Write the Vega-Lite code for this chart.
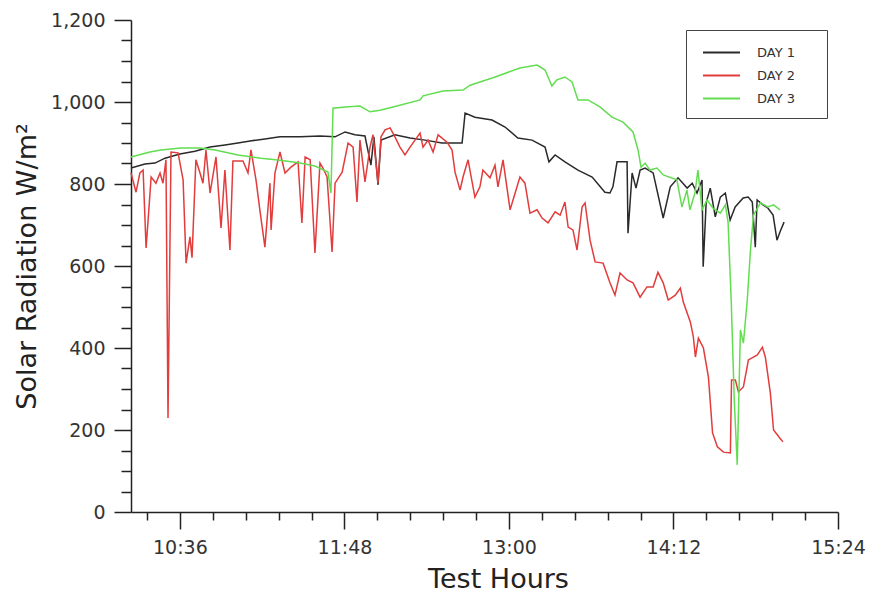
{
  "$schema": "https://vega.github.io/schema/vega-lite/v6.json",
  "width": 707,
  "height": 492,
  "autosize": "none",
  "padding": {"left": 131, "top": 20, "right": 33, "bottom": 83},
  "background": "white",
  "config": {"view": {"stroke": null}, "font": "DejaVu Sans"},
  "data": {"values": [
    {"day":"DAY 1","t":614.6,"v":839},{"day":"DAY 1","t":620.7,"v":849},{"day":"DAY 1","t":625.1,"v":851},{"day":"DAY 1","t":629.5,"v":863},{"day":"DAY 1","t":636.0,"v":873},{"day":"DAY 1","t":642.6,"v":880},{"day":"DAY 1","t":649.2,"v":890},{"day":"DAY 1","t":655.7,"v":895},{"day":"DAY 1","t":661.4,"v":900},{"day":"DAY 1","t":666.7,"v":905},{"day":"DAY 1","t":673.2,"v":910},{"day":"DAY 1","t":679.8,"v":915},{"day":"DAY 1","t":688.6,"v":915},{"day":"DAY 1","t":697.3,"v":917},{"day":"DAY 1","t":703.9,"v":915},{"day":"DAY 1","t":708.3,"v":927},{"day":"DAY 1","t":712.6,"v":920},{"day":"DAY 1","t":717.0,"v":917},{"day":"DAY 1","t":719.6,"v":846},{"day":"DAY 1","t":720.9,"v":915},{"day":"DAY 1","t":722.7,"v":798},{"day":"DAY 1","t":724.0,"v":907},{"day":"DAY 1","t":730.1,"v":920},{"day":"DAY 1","t":736.7,"v":912},{"day":"DAY 1","t":743.3,"v":907},{"day":"DAY 1","t":750.7,"v":900},{"day":"DAY 1","t":759.5,"v":900},{"day":"DAY 1","t":760.8,"v":973},{"day":"DAY 1","t":765.1,"v":963},{"day":"DAY 1","t":772.6,"v":956},{"day":"DAY 1","t":778.3,"v":939},{"day":"DAY 1","t":783.9,"v":912},{"day":"DAY 1","t":790.1,"v":907},{"day":"DAY 1","t":795.8,"v":890},{"day":"DAY 1","t":797.5,"v":854},{"day":"DAY 1","t":800.2,"v":871},{"day":"DAY 1","t":804.5,"v":854},{"day":"DAY 1","t":810.2,"v":834},{"day":"DAY 1","t":816.4,"v":817},{"day":"DAY 1","t":822.0,"v":780},{"day":"DAY 1","t":824.2,"v":778},{"day":"DAY 1","t":825.5,"v":793},{"day":"DAY 1","t":827.3,"v":854},{"day":"DAY 1","t":831.7,"v":854},{"day":"DAY 1","t":832.1,"v":680},{"day":"DAY 1","t":833.9,"v":827},{"day":"DAY 1","t":835.6,"v":790},{"day":"DAY 1","t":837.4,"v":834},{"day":"DAY 1","t":839.6,"v":839},{"day":"DAY 1","t":843.1,"v":827},{"day":"DAY 1","t":847.5,"v":717},{"day":"DAY 1","t":850.6,"v":793},{"day":"DAY 1","t":854.0,"v":815},{"day":"DAY 1","t":858.0,"v":790},{"day":"DAY 1","t":860.2,"v":802},{"day":"DAY 1","t":862.3,"v":778},{"day":"DAY 1","t":864.5,"v":810},{"day":"DAY 1","t":865.0,"v":598},{"day":"DAY 1","t":866.3,"v":754},{"day":"DAY 1","t":868.1,"v":790},{"day":"DAY 1","t":870.3,"v":720},{"day":"DAY 1","t":872.5,"v":768},{"day":"DAY 1","t":874.7,"v":778},{"day":"DAY 1","t":876.8,"v":712},{"day":"DAY 1","t":879.0,"v":744},{"day":"DAY 1","t":882.5,"v":766},{"day":"DAY 1","t":884.7,"v":768},{"day":"DAY 1","t":886.5,"v":756},{"day":"DAY 1","t":887.8,"v":646},{"day":"DAY 1","t":888.6,"v":761},{"day":"DAY 1","t":891.2,"v":749},{"day":"DAY 1","t":893.4,"v":741},{"day":"DAY 1","t":895.6,"v":724},{"day":"DAY 1","t":897.3,"v":663},{"day":"DAY 1","t":898.6,"v":683},{"day":"DAY 1","t":900.4,"v":707},
    {"day":"DAY 2","t":614.6,"v":827},{"day":"DAY 2","t":616.8,"v":780},{"day":"DAY 2","t":618.5,"v":827},{"day":"DAY 2","t":619.9,"v":834},{"day":"DAY 2","t":621.2,"v":644},{"day":"DAY 2","t":622.5,"v":744},{"day":"DAY 2","t":623.4,"v":817},{"day":"DAY 2","t":625.5,"v":802},{"day":"DAY 2","t":627.3,"v":827},{"day":"DAY 2","t":628.6,"v":802},{"day":"DAY 2","t":629.9,"v":859},{"day":"DAY 2","t":630.8,"v":229},{"day":"DAY 2","t":632.1,"v":878},{"day":"DAY 2","t":635.2,"v":876},{"day":"DAY 2","t":637.4,"v":810},{"day":"DAY 2","t":638.7,"v":607},{"day":"DAY 2","t":640.4,"v":671},{"day":"DAY 2","t":641.3,"v":620},{"day":"DAY 2","t":643.0,"v":859},{"day":"DAY 2","t":644.8,"v":827},{"day":"DAY 2","t":646.1,"v":802},{"day":"DAY 2","t":647.4,"v":883},{"day":"DAY 2","t":649.2,"v":778},{"day":"DAY 2","t":651.8,"v":866},{"day":"DAY 2","t":654.0,"v":693},{"day":"DAY 2","t":655.7,"v":834},{"day":"DAY 2","t":657.9,"v":639},{"day":"DAY 2","t":659.2,"v":856},{"day":"DAY 2","t":663.6,"v":856},{"day":"DAY 2","t":665.8,"v":827},{"day":"DAY 2","t":667.1,"v":883},{"day":"DAY 2","t":669.3,"v":810},{"day":"DAY 2","t":671.1,"v":732},{"day":"DAY 2","t":673.2,"v":646},{"day":"DAY 2","t":675.4,"v":802},{"day":"DAY 2","t":675.9,"v":688},{"day":"DAY 2","t":677.6,"v":827},{"day":"DAY 2","t":679.8,"v":878},{"day":"DAY 2","t":682.0,"v":827},{"day":"DAY 2","t":684.6,"v":841},{"day":"DAY 2","t":687.7,"v":854},{"day":"DAY 2","t":689.4,"v":705},{"day":"DAY 2","t":690.8,"v":866},{"day":"DAY 2","t":693.0,"v":859},{"day":"DAY 2","t":695.1,"v":632},{"day":"DAY 2","t":697.3,"v":851},{"day":"DAY 2","t":698.6,"v":839},{"day":"DAY 2","t":700.4,"v":817},{"day":"DAY 2","t":702.6,"v":634},{"day":"DAY 2","t":703.9,"v":802},{"day":"DAY 2","t":707.0,"v":829},{"day":"DAY 2","t":709.6,"v":900},{"day":"DAY 2","t":711.8,"v":890},{"day":"DAY 2","t":713.5,"v":756},{"day":"DAY 2","t":714.8,"v":907},{"day":"DAY 2","t":717.0,"v":805},{"day":"DAY 2","t":719.2,"v":890},{"day":"DAY 2","t":720.5,"v":920},{"day":"DAY 2","t":722.7,"v":802},{"day":"DAY 2","t":724.0,"v":915},{"day":"DAY 2","t":725.8,"v":932},{"day":"DAY 2","t":728.0,"v":937},{"day":"DAY 2","t":730.1,"v":915},{"day":"DAY 2","t":732.3,"v":890},{"day":"DAY 2","t":734.5,"v":871},{"day":"DAY 2","t":736.7,"v":890},{"day":"DAY 2","t":738.9,"v":907},{"day":"DAY 2","t":741.1,"v":924},{"day":"DAY 2","t":742.4,"v":890},{"day":"DAY 2","t":744.6,"v":907},{"day":"DAY 2","t":746.8,"v":878},{"day":"DAY 2","t":749.0,"v":920},{"day":"DAY 2","t":752.9,"v":902},{"day":"DAY 2","t":755.1,"v":883},{"day":"DAY 2","t":756.4,"v":829},{"day":"DAY 2","t":758.6,"v":785},{"day":"DAY 2","t":759.9,"v":817},{"day":"DAY 2","t":762.1,"v":859},{"day":"DAY 2","t":765.1,"v":768},{"day":"DAY 2","t":767.3,"v":793},{"day":"DAY 2","t":768.6,"v":834},{"day":"DAY 2","t":771.7,"v":815},{"day":"DAY 2","t":773.9,"v":846},{"day":"DAY 2","t":775.2,"v":793},{"day":"DAY 2","t":777.4,"v":859},{"day":"DAY 2","t":780.5,"v":737},{"day":"DAY 2","t":784.8,"v":817},{"day":"DAY 2","t":787.0,"v":802},{"day":"DAY 2","t":789.2,"v":729},{"day":"DAY 2","t":792.3,"v":737},{"day":"DAY 2","t":794.5,"v":717},{"day":"DAY 2","t":797.1,"v":705},{"day":"DAY 2","t":800.2,"v":732},{"day":"DAY 2","t":802.4,"v":724},{"day":"DAY 2","t":804.5,"v":756},{"day":"DAY 2","t":805.9,"v":695},{"day":"DAY 2","t":808.0,"v":688},{"day":"DAY 2","t":809.8,"v":639},{"day":"DAY 2","t":812.0,"v":744},{"day":"DAY 2","t":813.3,"v":754},{"day":"DAY 2","t":815.5,"v":663},{"day":"DAY 2","t":817.7,"v":610},{"day":"DAY 2","t":821.2,"v":607},{"day":"DAY 2","t":824.2,"v":559},{"day":"DAY 2","t":826.4,"v":529},{"day":"DAY 2","t":828.6,"v":583},{"day":"DAY 2","t":831.7,"v":566},{"day":"DAY 2","t":834.3,"v":559},{"day":"DAY 2","t":837.4,"v":524},{"day":"DAY 2","t":840.4,"v":549},{"day":"DAY 2","t":843.1,"v":549},{"day":"DAY 2","t":845.2,"v":585},{"day":"DAY 2","t":847.5,"v":559},{"day":"DAY 2","t":849.7,"v":517},{"day":"DAY 2","t":852.8,"v":529},{"day":"DAY 2","t":855.0,"v":546},{"day":"DAY 2","t":856.3,"v":512},{"day":"DAY 2","t":859.4,"v":463},{"day":"DAY 2","t":860.7,"v":427},{"day":"DAY 2","t":861.6,"v":378},{"day":"DAY 2","t":862.9,"v":424},{"day":"DAY 2","t":865.1,"v":400},{"day":"DAY 2","t":867.3,"v":329},{"day":"DAY 2","t":869.1,"v":193},{"day":"DAY 2","t":871.2,"v":159},{"day":"DAY 2","t":873.9,"v":146},{"day":"DAY 2","t":876.9,"v":144},{"day":"DAY 2","t":877.4,"v":322},{"day":"DAY 2","t":879.1,"v":322},{"day":"DAY 2","t":880.4,"v":293},{"day":"DAY 2","t":882.6,"v":305},{"day":"DAY 2","t":884.8,"v":371},{"day":"DAY 2","t":888.7,"v":383},{"day":"DAY 2","t":890.9,"v":402},{"day":"DAY 2","t":892.2,"v":378},{"day":"DAY 2","t":894.4,"v":290},{"day":"DAY 2","t":895.8,"v":200},{"day":"DAY 2","t":898.6,"v":180},{"day":"DAY 2","t":899.9,"v":171},
    {"day":"DAY 3","t":614.6,"v":866},{"day":"DAY 3","t":622.9,"v":878},{"day":"DAY 3","t":627.7,"v":883},{"day":"DAY 3","t":636.5,"v":888},{"day":"DAY 3","t":644.8,"v":888},{"day":"DAY 3","t":651.4,"v":883},{"day":"DAY 3","t":661.4,"v":871},{"day":"DAY 3","t":671.5,"v":863},{"day":"DAY 3","t":679.8,"v":858},{"day":"DAY 3","t":688.6,"v":851},{"day":"DAY 3","t":695.1,"v":844},{"day":"DAY 3","t":700.8,"v":829},{"day":"DAY 3","t":702.1,"v":778},{"day":"DAY 3","t":703.0,"v":985},{"day":"DAY 3","t":708.3,"v":988},{"day":"DAY 3","t":714.8,"v":990},{"day":"DAY 3","t":719.2,"v":976},{"day":"DAY 3","t":723.6,"v":980},{"day":"DAY 3","t":729.3,"v":988},{"day":"DAY 3","t":741.1,"v":1005},{"day":"DAY 3","t":742.4,"v":1015},{"day":"DAY 3","t":751.1,"v":1027},{"day":"DAY 3","t":759.9,"v":1029},{"day":"DAY 3","t":763.0,"v":1041},{"day":"DAY 3","t":773.0,"v":1059},{"day":"DAY 3","t":784.8,"v":1083},{"day":"DAY 3","t":792.3,"v":1090},{"day":"DAY 3","t":795.8,"v":1078},{"day":"DAY 3","t":798.8,"v":1039},{"day":"DAY 3","t":801.0,"v":1054},{"day":"DAY 3","t":804.5,"v":1061},{"day":"DAY 3","t":807.6,"v":1049},{"day":"DAY 3","t":810.2,"v":1005},{"day":"DAY 3","t":814.6,"v":1005},{"day":"DAY 3","t":819.8,"v":988},{"day":"DAY 3","t":825.1,"v":963},{"day":"DAY 3","t":829.9,"v":951},{"day":"DAY 3","t":834.3,"v":927},{"day":"DAY 3","t":836.5,"v":883},{"day":"DAY 3","t":837.8,"v":841},{"day":"DAY 3","t":839.6,"v":851},{"day":"DAY 3","t":841.7,"v":834},{"day":"DAY 3","t":844.8,"v":839},{"day":"DAY 3","t":847.5,"v":822},{"day":"DAY 3","t":853.5,"v":810},{"day":"DAY 3","t":855.7,"v":744},{"day":"DAY 3","t":857.9,"v":785},{"day":"DAY 3","t":859.2,"v":737},{"day":"DAY 3","t":861.4,"v":778},{"day":"DAY 3","t":862.7,"v":834},{"day":"DAY 3","t":864.5,"v":737},{"day":"DAY 3","t":866.7,"v":761},{"day":"DAY 3","t":869.3,"v":741},{"day":"DAY 3","t":872.5,"v":729},{"day":"DAY 3","t":874.7,"v":749},{"day":"DAY 3","t":875.9,"v":707},{"day":"DAY 3","t":877.3,"v":510},{"day":"DAY 3","t":878.6,"v":273},{"day":"DAY 3","t":879.9,"v":115},{"day":"DAY 3","t":881.3,"v":444},{"day":"DAY 3","t":882.6,"v":412},{"day":"DAY 3","t":884.3,"v":517},{"day":"DAY 3","t":885.7,"v":639},{"day":"DAY 3","t":887.0,"v":724},{"day":"DAY 3","t":890.1,"v":754},{"day":"DAY 3","t":893.2,"v":744},{"day":"DAY 3","t":895.8,"v":749},{"day":"DAY 3","t":898.6,"v":737}
  ]},
  "resolve": {"scale": {"x": "shared", "y": "shared"}, "axis": {"x": "independent", "y": "independent"}},
  "layer": [
    {
      "mark": {"type": "point", "opacity": 0},
      "encoding": {
        "x": {
          "field": "t", "type": "quantitative",
          "scale": {"domain": [614.6, 924], "nice": false, "zero": false},
          "axis": {
            "orient": "bottom", "title": null, "labels": false, "domain": false, "grid": false,
            "values": [621.6,650.4,664.8,679.2,693.6,722.4,736.8,751.2,765.6,794.4,808.8,823.2,837.6,866.4,880.8,895.2,909.6],
            "tickSize": 8, "tickColor": "#222", "tickWidth": 1.5
          }
        },
        "y": {
          "field": "v", "type": "quantitative",
          "scale": {"domain": [0, 1200], "nice": false},
          "axis": {
            "orient": "left", "title": null, "labels": false, "domain": false, "grid": false,
            "values": [50,100,150,250,300,350,450,500,550,650,700,750,850,900,950,1050,1100,1150],
            "tickSize": 10, "tickColor": "#222", "tickWidth": 1.5
          }
        }
      }
    },
    {
      "mark": {"type": "line", "strokeWidth": 1.5},
      "encoding": {
        "x": {
          "field": "t", "type": "quantitative",
          "axis": {
            "orient": "bottom",
            "title": "Test Hours", "titleFontSize": 27, "titleFontWeight": "normal", "titleColor": "#222", "titlePadding": 9, "titleX": 367,
            "values": [636, 708, 780, 852, 924],
            "tickSize": 17,
            "labelExpr": "floor(round(datum.value) / 60) + ':' + (round(datum.value) % 60 < 10 ? '0' : '') + (round(datum.value) % 60)",
            "labelFontSize": 19, "labelColor": "#333", "labelPadding": 9, "labelOverlap": false, "labelFlush": false,
            "grid": false, "domainColor": "#222", "domainWidth": 1.5, "tickColor": "#222", "tickWidth": 1.5
          }
        },
        "y": {
          "field": "v", "type": "quantitative",
          "axis": {
            "orient": "left",
            "title": "Solar Radiation W/m²", "titleFontSize": 27, "titleFontWeight": "normal", "titleColor": "#222", "titlePadding": 9,
            "values": [0, 200, 400, 600, 800, 1000, 1200],
            "tickSize": 17,
            "format": ",d",
            "labelFontSize": 19, "labelColor": "#333", "labelPadding": 9, "labelOverlap": false, "labelFlush": false,
            "grid": false, "domainColor": "#222", "domainWidth": 1.5, "tickColor": "#222", "tickWidth": 1.5
          }
        },
        "color": {
          "field": "day", "type": "nominal",
          "scale": {"domain": ["DAY 1", "DAY 2", "DAY 3"], "range": ["#2a2a2a", "#e23c3c", "#62dd50"]},
          "legend": {
            "title": null, "orient": "none", "legendX": 555, "legendY": 10,
            "direction": "vertical",
            "strokeColor": "#444", "fillColor": "white", "padding": 12, "cornerRadius": 0,
            "symbolType": "M-2,0H2", "symbolSize": 342, "symbolStrokeWidth": 2, "symbolOffset": 13,
            "labelFontSize": 13, "labelColor": "#333", "labelOffset": 25, "rowPadding": 5,
            "labelExpr": "datum.label + '\u2003\u2002\u200b'"
          }
        }
      }
    }
  ]
}
